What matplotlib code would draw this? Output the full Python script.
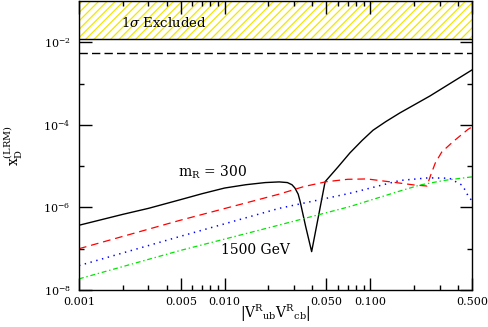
import numpy as np
import matplotlib
matplotlib.use('Agg')
import matplotlib.pyplot as plt
from matplotlib.ticker import FixedLocator, FixedFormatter, NullFormatter

plt.rcParams['font.family'] = ['DejaVu Serif']
plt.rcParams['mathtext.fontset'] = 'dejavuserif'
plt.rcParams['lines.scale_dashes'] = False
plt.rcParams['hatch.linewidth'] = 0.9
plt.rcParams['hatch.color'] = '#f2e600'

# m_R = 300 GeV (solid black)
x_300 = [0.001, 0.002, 0.003, 0.005, 0.007, 0.010, 0.014, 0.019, 0.0237, 0.027,
         0.029, 0.0304, 0.032, 0.033, 0.036, 0.0396,
         0.049, 0.060, 0.0726, 0.088, 0.1045, 0.128, 0.16, 0.257, 0.5]
y_300 = [3.7e-7, 6.8e-7, 9.5e-7, 1.55e-6, 2.15e-6, 2.95e-6, 3.55e-6, 4.0e-6, 4.15e-6, 4.0e-6,
         3.55e-6, 2.95e-6, 2.1e-6, 1.4e-6, 3.5e-7, 8.5e-8,
         4.2e-6, 9.5e-6, 2.1e-5, 4.2e-5, 7.4e-5, 1.2e-4, 1.95e-4, 5.0e-4, 2.14e-3]
# red dashed
x_red = [0.001, 0.00486, 0.0237, 0.035, 0.05, 0.07, 0.095, 0.15, 0.2, 0.245,
         0.26, 0.28, 0.31, 0.37, 0.47, 0.5]
y_red = [1.0e-7, 4.8e-7, 2.1e-6, 3.2e-6, 4.2e-6, 4.8e-6, 4.9e-6, 4.0e-6, 3.5e-6, 3.3e-6,
         6.0e-6, 1.2e-5, 2.2e-5, 3.9e-5, 7.8e-5, 8.9e-5]
# blue dotted
x_blue = [0.001, 0.00486, 0.0237, 0.0726, 0.16, 0.25, 0.35, 0.425, 0.45, 0.47, 0.5]
y_blue = [3.9e-8, 1.95e-7, 9.5e-7, 2.2e-6, 4.5e-6, 5.2e-6, 5.1e-6, 3.5e-6, 2.6e-6, 1.9e-6, 1.45e-6]
# 1500 GeV (green dash-dot)
x_green = [0.001, 0.00486, 0.022, 0.0726, 0.16, 0.22, 0.32, 0.5]
y_green = [1.86e-8, 8.9e-8, 3.5e-7, 1.05e-6, 2.5e-6, 3.5e-6, 4.5e-6, 5.5e-6]

excl_low = 1.23e-2
dashed_level = 5.6e-3

x_major = [0.001, 0.005, 0.010, 0.050, 0.100, 0.500]
x_labels = ['0.001', '0.005', '0.010', '0.050', '0.100', '0.500']
x_minor = [0.002, 0.003, 0.004, 0.006, 0.007, 0.008, 0.009,
           0.02, 0.03, 0.04, 0.06, 0.07, 0.08, 0.09, 0.2, 0.3, 0.4]
y_major = [1e-8, 1e-6, 1e-4, 1e-2]
y_labels = [r'$10^{-8}$', r'$10^{-6}$', r'$10^{-4}$', r'$10^{-2}$']
y_minor = [1e-7, 1e-5, 1e-3]

fig = plt.figure(figsize=(4.88, 3.27), dpi=100)
ax = fig.add_axes([79/488, 37/327, 393/488, 289/327])
ax.set_xscale('log')
ax.set_yscale('log')
ax.set_xlim(0.001, 0.5)
ax.set_ylim(1e-8, 1e-1)

ax.fill_between([0.001, 0.5], [excl_low, excl_low], [1e-1, 1e-1],
                facecolor='white', hatch='////', edgecolor='#f2e600', linewidth=0)
ax.axhline(excl_low, color='black', lw=1.0)
ax.axhline(dashed_level, color='black', lw=1.0, dashes=(6, 3))

ax.plot(x_300, y_300, color='black', lw=1.0)
ax.plot(x_red, y_red, color='red', lw=0.9, dashes=(5.5, 3.5))
ax.plot(x_blue, y_blue, color='blue', lw=1.1, dashes=(1.0, 3.3))
ax.plot(x_green, y_green, color='#00e600', lw=0.9, dashes=(3.5, 2, 1, 2))

ax.text(0.0038, 0.03, r'1$\sigma$ Excluded', fontsize=9.5, ha='center', va='center')
ax.text(0.0083, 7.0e-6, r'$\mathrm{m_R}$ = 300', fontsize=10, ha='center', va='center')
ax.text(0.0163, 9.3e-8, '1500 GeV', fontsize=10, ha='center', va='center')

ax.xaxis.set_major_locator(FixedLocator(x_major))
ax.xaxis.set_major_formatter(FixedFormatter(x_labels))
ax.xaxis.set_minor_locator(FixedLocator(x_minor))
ax.xaxis.set_minor_formatter(NullFormatter())
ax.yaxis.set_major_locator(FixedLocator(y_major))
ax.yaxis.set_major_formatter(FixedFormatter(y_labels))
ax.yaxis.set_minor_locator(FixedLocator(y_minor))
ax.yaxis.set_minor_formatter(NullFormatter())

ax.tick_params(which='both', direction='in', top=True, right=True, labelsize=8, width=1.0)
ax.tick_params(which='major', length=9)
ax.tick_params(which='minor', length=3.5)
ax.tick_params(axis='x', pad=5)
ax.tick_params(axis='y', pad=6)
for s in ax.spines.values():
    s.set_linewidth(1.0)

ax.set_xlabel(r'$|\mathrm{V^R{}_{ub}V^R{}_{cb}}|$', fontsize=10, labelpad=-3)
ax.set_ylabel(r'$\mathrm{x_D^{(LRM)}}$', fontsize=10, labelpad=13)

fig.savefig('out.png', dpi=100)
